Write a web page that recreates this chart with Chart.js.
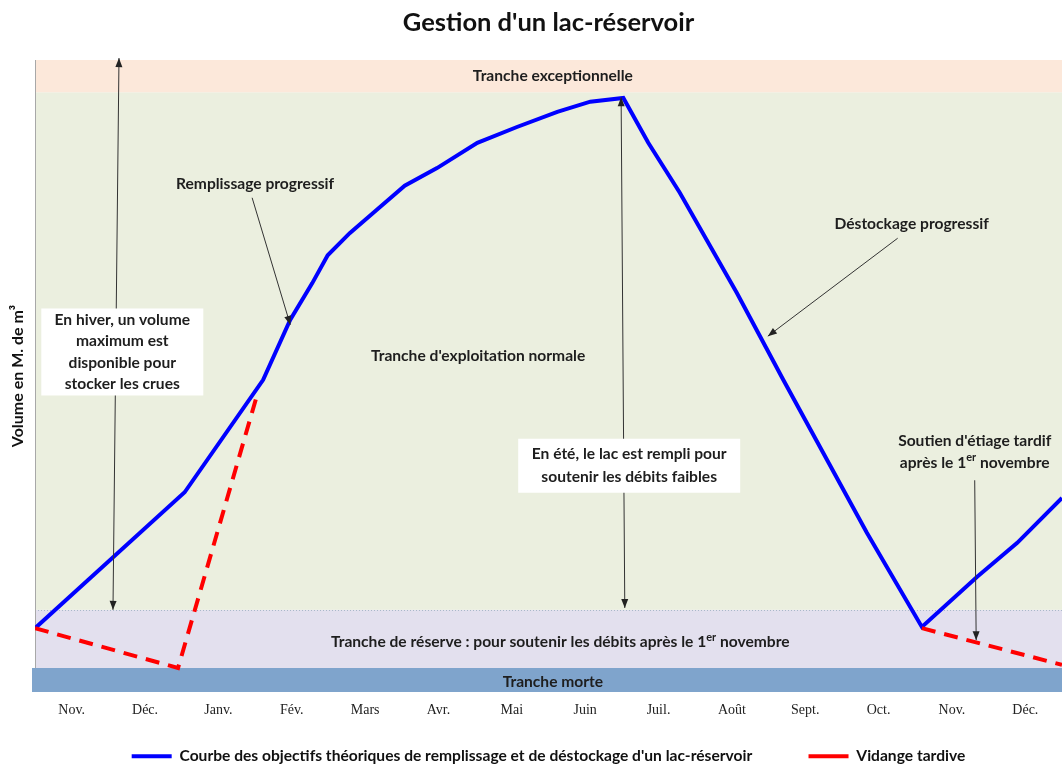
<!DOCTYPE html>
<html lang="fr">
<head>
<meta charset="UTF-8">
<title>Gestion d'un lac-réservoir</title>
<script src="https://cdn.jsdelivr.net/npm/chart.js/dist/chart.umd.min.js"></script>
<style>
  html, body { margin: 0; padding: 0; background: #fff; }
  #wrap { width: 1062px; height: 764px; }
</style>
</head>
<body>
<div id="wrap"><canvas id="myChart"></canvas></div>
<script>
// x = months since 1st November, y = volume (relative units, 0-100)
const monthLabels = ['Nov.', 'Déc.', 'Janv.', 'Fév.', 'Mars', 'Avr.', 'Mai', 'Juin', 'Juil.', 'Août', 'Sept.', 'Oct.', 'Nov.', 'Déc.'];

const objectifX = [0, 2.04, 3.11, 3.48, 3.78, 3.99, 4.29, 4.66, 5.04, 5.48, 6.03, 6.57, 7.12, 7.57, 8.02, 8.36, 8.79, 9.57, 10.20, 11.34, 12.09, 12.84, 13.39, 14.0];
const objectifY = [10.1, 31.6, 49.4, 58.9, 64.7, 69.1, 72.6, 76.3, 80.1, 82.9, 86.9, 89.4, 91.8, 93.4, 94.0, 86.9, 79.0, 63.1, 49.4, 25.2, 10.3, 18.2, 23.6, 30.7];

// null splits the two late-emptying segments
const vidangeX = [0, 1.95, 3.04, 3.5, 12.09, 14.0];
const vidangeY = [10.1, 3.8, 47.5, null, 10.1, 4.3];

// storage bands (bottom to top)
const bandNames = ['Tranche morte', 'Tranche de réserve : pour soutenir les débits après le 1^er^ novembre', "Tranche d'exploitation normale", 'Tranche exceptionnelle'];
const bandFrom = [0, 3.8, 13.0, 94.9];
const bandTo = [3.8, 13.0, 94.9, 100];

const bandColors = ['#7fa4cc', '#e3e0ee', '#ebefdf', '#fce8da'];
const bandLabelPos = [[7.06, 1.6], [7.16, 7.9], [6.04, 53.2], [7.06, 97.5]];

// annotations
const notes = [
  { lines: ['Remplissage progressif'], x: 3.0, y: 80.4, lh: 21 },
  { lines: ['Déstockage progressif'], x: 11.95, y: 74.1, lh: 21 },
  { lines: ['En hiver, un volume', 'maximum est', 'disponible pour', 'stocker les crues'], x: 1.19, y: 53.8, lh: 21.5, box: [162, 87] },
  { lines: ['En été, le lac est rempli pour', 'soutenir les débits faibles'], x: 8.10, y: 35.8, lh: 23, box: [222, 54] },
  { lines: ["Soutien d'étiage tardif", 'après le 1^er^ novembre'], x: 12.81, y: 38.0, lh: 21.5 }
];
const arrows = [
  { from: [2.96, 78.2], to: [3.48, 58.1], both: false },
  { from: [11.76, 71.8], to: [9.99, 56.3], both: false },
  { from: [1.063, 13.0], to: [1.145, 100.3], both: true },
  { from: [8.04, 13.3], to: [7.99, 94.1], both: true },
  { from: [12.81, 33.5], to: [12.83, 8.2], both: false }
];

const FONT = 'Lato, "Open Sans", sans-serif';
const TXT = 15.6;

function drawRich(ctx, str, x, y, size) {
  const parts = str.split('^');
  const font = s => 'bold ' + s + 'px ' + FONT;
  const supSize = Math.round(size * 0.7);
  let total = 0;
  parts.forEach((p, i) => { ctx.font = font(i % 2 ? supSize : size); total += ctx.measureText(p).width; });
  let cx = x - total / 2;
  ctx.textAlign = 'left';
  ctx.textBaseline = 'middle';
  parts.forEach((p, i) => {
    const sup = i % 2 === 1;
    ctx.font = font(sup ? supSize : size);
    ctx.fillText(p, cx, sup ? y - size * 0.3 : y);
    cx += ctx.measureText(p).width;
  });
}

function arrowHead(ctx, x1, y1, x2, y2) {
  const a = Math.atan2(y2 - y1, x2 - x1), L = 9, W = 3.5;
  ctx.beginPath();
  ctx.moveTo(x2, y2);
  ctx.lineTo(x2 - L * Math.cos(a) + W * Math.sin(a), y2 - L * Math.sin(a) - W * Math.cos(a));
  ctx.lineTo(x2 - L * Math.cos(a) - W * Math.sin(a), y2 - L * Math.sin(a) + W * Math.cos(a));
  ctx.closePath();
  ctx.fill();
}

const bandsPlugin = {
  id: 'bands',
  beforeDatasetsDraw(chart) {
    const { ctx, chartArea: a, scales: { x, y } } = chart;
    ctx.save();
    bandFrom.forEach((v, i) => {
      const top = y.getPixelForValue(bandTo[i]);
      const bot = y.getPixelForValue(v);
      const left = i === 0 ? a.left - 3 : a.left;
      ctx.fillStyle = bandColors[i];
      ctx.fillRect(left, top, a.right - left, bot - top);
    });
    // dotted limit above the reserve
    const yr = Math.round(y.getPixelForValue(bandTo[1])) + 0.5;
    ctx.strokeStyle = '#a9b8c8';
    ctx.lineWidth = 1;
    ctx.setLineDash([1, 2]);
    ctx.beginPath(); ctx.moveTo(a.left, yr); ctx.lineTo(a.right, yr); ctx.stroke();
    ctx.setLineDash([]);
    // left axis line
    ctx.strokeStyle = '#a8a8a8';
    ctx.beginPath();
    ctx.moveTo(a.left + 0.5, a.top);
    ctx.lineTo(a.left + 0.5, y.getPixelForValue(bandTo[0]));
    ctx.stroke();
    // band labels
    ctx.fillStyle = '#1e1e1e';
    bandNames.forEach((n, i) => {
      drawRich(ctx, n, x.getPixelForValue(bandLabelPos[i][0]), y.getPixelForValue(bandLabelPos[i][1]), TXT);
    });
    ctx.restore();
  }
};

const notesPlugin = {
  id: 'notes',
  afterDatasetsDraw(chart) {
    const { ctx, scales: { x, y } } = chart;
    ctx.save();
    ctx.strokeStyle = '#333';
    ctx.fillStyle = '#222';
    ctx.lineWidth = 1;
    arrows.forEach(ar => {
      const x1 = x.getPixelForValue(ar.from[0]), y1 = y.getPixelForValue(ar.from[1]);
      const x2 = x.getPixelForValue(ar.to[0]), y2 = y.getPixelForValue(ar.to[1]);
      ctx.beginPath(); ctx.moveTo(x1, y1); ctx.lineTo(x2, y2); ctx.stroke();
      arrowHead(ctx, x1, y1, x2, y2);
      if (ar.both) arrowHead(ctx, x2, y2, x1, y1);
    });
    notes.forEach(n => {
      const cx = x.getPixelForValue(n.x), cy = y.getPixelForValue(n.y);
      if (n.box) {
        ctx.fillStyle = '#ffffff';
        ctx.fillRect(cx - n.box[0] / 2, cy - n.box[1] / 2, n.box[0], n.box[1]);
      }
      ctx.fillStyle = '#1e1e1e';
      const y0 = cy - (n.lines.length - 1) * n.lh / 2;
      n.lines.forEach((l, i) => drawRich(ctx, l, cx, y0 + i * n.lh, TXT));
    });
    ctx.restore();
  }
};

new Chart(document.getElementById('myChart'), {
  type: 'line',
  data: {
    datasets: [
      {
        label: "Courbe des objectifs théoriques de remplissage et de déstockage d'un lac-réservoir",
        data: objectifX.map((v, i) => ({ x: v, y: objectifY[i] })),
        borderColor: '#0000ff',
        backgroundColor: '#0000ff',
        borderWidth: 4,
        pointRadius: 0,
        tension: 0,
        order: 2
      },
      {
        label: 'Vidange tardive',
        data: vidangeX.map((v, i) => ({ x: v, y: vidangeY[i] })),
        borderColor: '#ff0000',
        backgroundColor: '#ff0000',
        borderWidth: 4,
        borderDash: [14, 9],
        pointRadius: 0,
        tension: 0,
        spanGaps: false,
        order: 1
      }
    ]
  },
  options: {
    responsive: true,
    maintainAspectRatio: false,
    animation: false,
    layout: { padding: { top: 0, left: 0, right: 0, bottom: -10 } },
    scales: {
      x: {
        type: 'linear',
        min: 0,
        max: 14,
        grid: { display: false },
        border: { display: false },
        afterBuildTicks: s => { s.ticks = monthLabels.map((_, i) => ({ value: i + 0.5 })); },
        ticks: {
          autoSkip: false,
          maxRotation: 0,
          padding: 2,
          color: '#222',
          font: { family: '"Liberation Serif", serif', size: 14 },
          callback: v => monthLabels[Math.floor(v)]
        },
        afterFit: s => { s.height = 26.4; }
      },
      y: {
        min: 0,
        max: 100,
        grid: { display: false },
        border: { display: false },
        ticks: { display: false },
        title: {
          display: true,
          text: 'Volume en M. de m³',
          color: '#111',
          font: { family: FONT, size: 16, weight: 'bold' },
          padding: { top: 8, bottom: 0 }
        },
        afterFit: s => { s.width = 35; }
      }
    },
    plugins: {
      title: {
        display: true,
        fullSize: false,
        text: "Gestion d'un lac-réservoir",
        color: '#111',
        font: { family: FONT, size: 25.5, weight: 'bold' },
        padding: { top: 7, bottom: 22.4 }
      },
      legend: {
        position: 'bottom',
        fullSize: false,
        labels: {
          usePointStyle: true,
          pointStyle: 'line',
          pointStyleWidth: 40,
          color: '#111',
          font: { family: FONT, size: TXT, weight: 'bold' },
          padding: 30,
          generateLabels: chart => {
            const items = Chart.defaults.plugins.legend.labels.generateLabels(chart);
            const first = items.find(it => it.datasetIndex === 0);
            if (first) first.text += '\u00a0'.repeat(7);
            return items;
          },
          sort: (a, b) => a.datasetIndex - b.datasetIndex
        }
      },
      tooltip: { enabled: false }
    }
  },
  plugins: [bandsPlugin, notesPlugin]
});
</script>
</body>
</html>
